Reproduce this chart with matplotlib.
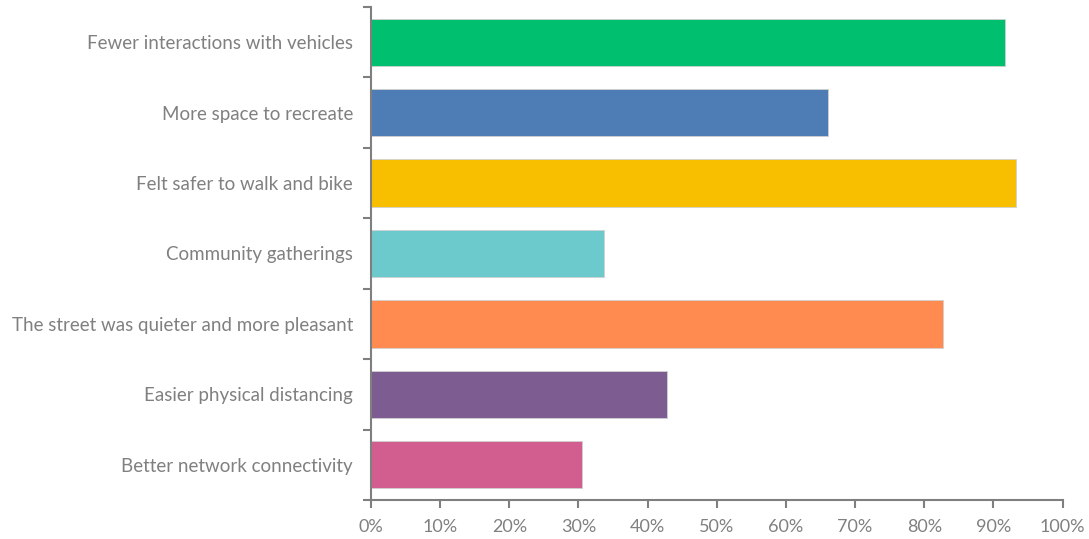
import numpy as np
import matplotlib.pyplot as plt
from matplotlib.ticker import FixedLocator, PercentFormatter

# survey responses, top to bottom as in the chart
labels = ["Fewer interactions with vehicles",
          "More space to recreate",
          "Felt safer to walk and bike",
          "Community gatherings",
          "The street was quieter and more pleasant",
          "Easier physical distancing",
          "Better network connectivity"]
values = [91.7, 66.1, 93.3, 33.7, 82.7, 42.8, 30.5]
colors = ["#00BF6F", "#4E7CB5", "#F8BE00", "#6CC9CC",
          "#FF8B50", "#7D5D91", "#D25E8F"]

plt.rcParams['font.family'] = ['Lato', 'DejaVu Sans']

fig = plt.figure(figsize=(10.89, 5.39), dpi=100)
ax = fig.add_axes([0.3407, 0.0724, 0.635, 0.9146])

y = np.arange(len(labels))[::-1]
ax.barh(y, values, height=0.67, color=colors, edgecolor="#d0d0d0", linewidth=0.6)

ax.set_xlim(0, 100)
ax.set_ylim(-0.5, len(labels) - 0.5)
ax.set_xticks(np.arange(0, 101, 10))
ax.xaxis.set_major_formatter(PercentFormatter(decimals=0))
ax.set_yticks(y)
ax.set_yticklabels(labels)
ax.yaxis.set_minor_locator(FixedLocator(np.arange(-0.5, len(labels), 1)))

gray = "#7f7f7f"
for s in ["top", "right"]:
    ax.spines[s].set_visible(False)
for s in ["left", "bottom"]:
    ax.spines[s].set_color(gray)
    ax.spines[s].set_linewidth(1.5)

ax.tick_params(axis="y", which="major", length=0, pad=13, labelsize=13.5, labelcolor="#808080")
ax.tick_params(axis="y", which="minor", length=6, width=1.5, color=gray)
ax.tick_params(axis="x", length=6, width=1.5, color=gray, pad=8, labelsize=13, labelcolor="#808080")

fig.savefig("out.png", dpi=100)
